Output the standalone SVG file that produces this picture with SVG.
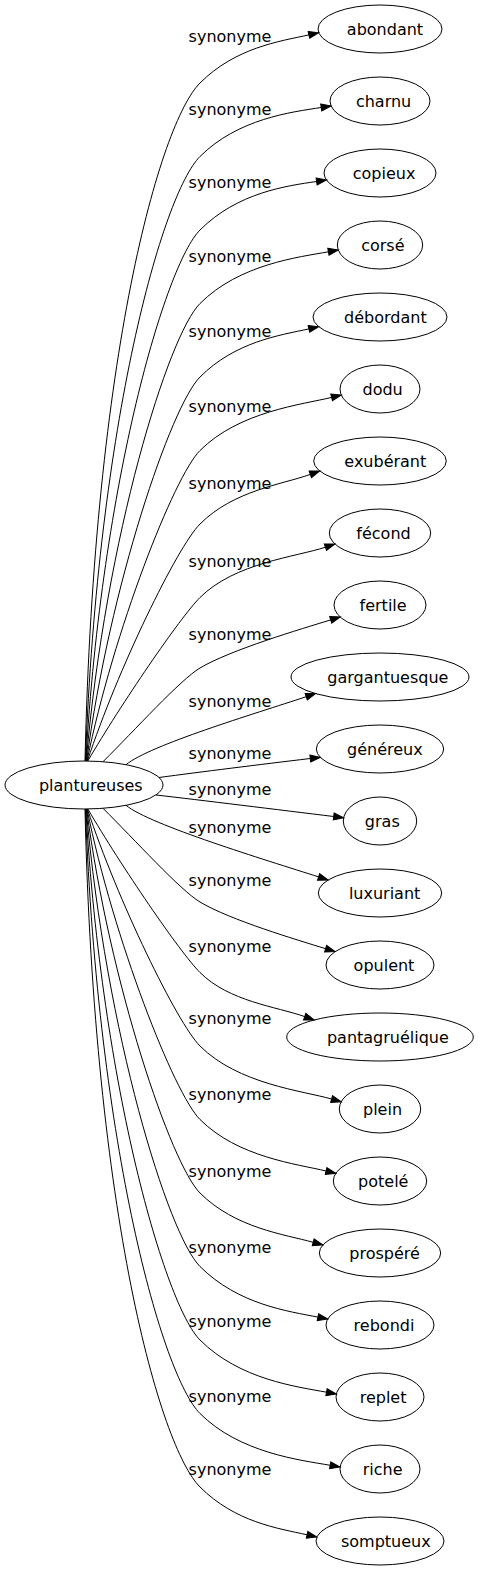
<svg xmlns="http://www.w3.org/2000/svg" width="478" height="1571" viewBox="0 0 478 1571">
<style>
.n ellipse{fill:none;stroke:#000;stroke-width:1}
.n text,.lb{font-family:"DejaVu Sans",sans-serif;font-size:16px;fill:#000;text-anchor:middle}
.e path{fill:none;stroke:#000;stroke-width:1;marker-end:url(#arr)}
</style>
<defs>
<marker id="arr" markerUnits="userSpaceOnUse" markerWidth="11" markerHeight="8" refX="0" refY="3.5" orient="auto" overflow="visible"><polygon points="0,0 10,3.5 0,7" fill="#000" stroke="#000" stroke-width="1"/></marker>
</defs>
<rect width="478" height="1571" fill="#fff"/>
<g id="connectors" class="e">
<path d="M85,761 C94.2,354.2 160,123 200,83 C235.4,47.6 279.6,41.3 308.9,34.9"/>
<path d="M85.4,761 C98.1,420.1 162.7,193.8 200,156.5 C237.8,118.7 291.6,112 321.2,107.5"/>
<path d="M85.8,761 C102,480.6 165.6,264.4 200,230 C237.6,192.4 286.9,185.8 316.6,181.5"/>
<path d="M86.2,761 C105.9,535.9 168.4,335.1 200,303.5 C239.4,264.1 298.9,257.1 328.4,251.8"/>
<path d="M86.6,761 C109.7,585.9 171.3,405.7 200,377 C235.4,341.6 279.6,335.3 308.9,328.9"/>
<path d="M87,761 C113.6,630.6 174.2,476.3 200,450.5 C239.1,411.4 302.5,404.5 331.6,397.4"/>
<path d="M87.4,761 C117.4,670 177.1,546.9 200,524 C233.6,490.4 282,484.5 310.3,474.4"/>
<path d="M87.8,761 C121.1,704.1 180,617.5 200,597.5 C234.7,562.8 296.9,556.7 325.4,547.2"/>
<path d="M103,761.7 C135,730 180,680 200,668 C230,650 302,628.7 330.7,619.9"/>
<path d="M126,764.7 C150,745 254,714 306.2,696.7"/>
<path d="M159,777.5 C200,772 260,764.5 310.3,758.5"/>
<path d="M156,795 C200,800 280,810 333.7,816.5"/>
<path d="M126,805.3 C150,825 266.2,860.1 318.6,876.9"/>
<path d="M103,808.3 C135,840 180,890 200,902 C230,920 297,939.8 325.6,948.7"/>
<path d="M87.8,809 C121.1,865.9 180,952.5 200,972.5 C229,1001.5 276.4,1006.6 304.7,1016.6"/>
<path d="M87.4,809 C117.4,900 177.1,1023.1 200,1046 C238.1,1084.1 302.7,1090.8 331.6,1099"/>
<path d="M87,809 C113.6,939.4 174.2,1093.7 200,1119.5 C237.8,1157.3 296.9,1164 326.1,1171"/>
<path d="M86.6,809 C109.7,984.1 171.3,1164.3 200,1193 C235.1,1228.1 284.3,1234.3 313.2,1242.3"/>
<path d="M86.2,809 C105.9,1034.1 168.4,1234.9 200,1266.5 C238.1,1304.6 288.5,1311.3 317.9,1317.1"/>
<path d="M85.8,809 C102,1089.4 165.6,1305.6 200,1340 C239.7,1379.7 297,1386.7 326.5,1392.2"/>
<path d="M85.4,809 C98.1,1149.9 162.7,1376.2 200,1413.5 C239.6,1453.1 300.6,1460.1 330.2,1465.3"/>
<path d="M85,809 C94.2,1215.8 160,1447 200,1487 C235.1,1522.1 277.8,1528.3 307.1,1534.8"/>
<text class="lb" x="230" y="42">synonyme</text>
<text class="lb" x="230" y="115">synonyme</text>
<text class="lb" x="230" y="188">synonyme</text>
<text class="lb" x="230" y="262">synonyme</text>
<text class="lb" x="230" y="337">synonyme</text>
<text class="lb" x="230" y="412">synonyme</text>
<text class="lb" x="230" y="489">synonyme</text>
<text class="lb" x="230" y="567">synonyme</text>
<text class="lb" x="230" y="640">synonyme</text>
<text class="lb" x="230" y="707">synonyme</text>
<text class="lb" x="230" y="759">synonyme</text>
<text class="lb" x="230" y="795">synonyme</text>
<text class="lb" x="230" y="833">synonyme</text>
<text class="lb" x="230" y="886">synonyme</text>
<text class="lb" x="230" y="952">synonyme</text>
<text class="lb" x="230" y="1024">synonyme</text>
<text class="lb" x="230" y="1100">synonyme</text>
<text class="lb" x="230" y="1177">synonyme</text>
<text class="lb" x="230" y="1253">synonyme</text>
<text class="lb" x="230" y="1327">synonyme</text>
<text class="lb" x="230" y="1402">synonyme</text>
<text class="lb" x="230" y="1475">synonyme</text>
</g>
<g id="plantureuses" class="n"><ellipse cx="84" cy="785" rx="79" ry="24"/><text x="90.8" y="790.5">plantureuses</text></g>
<g id="abondant" class="n"><ellipse cx="380" cy="29" rx="62" ry="24"/><text x="385" y="34.5">abondant</text></g>
<g id="charnu" class="n"><ellipse cx="380" cy="101" rx="50" ry="24"/><text x="383.6" y="106.5">charnu</text></g>
<g id="copieux" class="n"><ellipse cx="380" cy="173" rx="56" ry="24"/><text x="384.1" y="178.5">copieux</text></g>
<g id="corse" class="n"><ellipse cx="380" cy="245" rx="42.7" ry="24"/><text x="382.8" y="250.5">corsé</text></g>
<g id="debordant" class="n"><ellipse cx="380" cy="317" rx="67" ry="24"/><text x="385.4" y="322.5">débordant</text></g>
<g id="dodu" class="n"><ellipse cx="380" cy="389" rx="40" ry="24"/><text x="382.6" y="394.5">dodu</text></g>
<g id="exuberant" class="n"><ellipse cx="380" cy="461" rx="66.3" ry="24"/><text x="385.3" y="466.5">exubérant</text></g>
<g id="fecond" class="n"><ellipse cx="380" cy="533" rx="50.7" ry="24"/><text x="383.5" y="538.5">fécond</text></g>
<g id="fertile" class="n"><ellipse cx="380" cy="605" rx="46" ry="24"/><text x="383.1" y="610.5">fertile</text></g>
<g id="gargantuesque" class="n"><ellipse cx="380" cy="677" rx="89" ry="24"/><text x="387.9" y="682.5">gargantuesque</text></g>
<g id="genereux" class="n"><ellipse cx="380" cy="749" rx="63.7" ry="24"/><text x="384.9" y="754.5">généreux</text></g>
<g id="gras" class="n"><ellipse cx="380" cy="821" rx="36.7" ry="24"/><text x="382.3" y="826.5">gras</text></g>
<g id="luxuriant" class="n"><ellipse cx="380" cy="893" rx="61.7" ry="24"/><text x="384.6" y="898.5">luxuriant</text></g>
<g id="opulent" class="n"><ellipse cx="380" cy="965" rx="54" ry="24"/><text x="384" y="970.5">opulent</text></g>
<g id="pantagruelique" class="n"><ellipse cx="380" cy="1037" rx="93.3" ry="24"/><text x="387.9" y="1042.5">pantagruélique</text></g>
<g id="plein" class="n"><ellipse cx="380" cy="1109" rx="40.7" ry="24"/><text x="382.5" y="1114.5">plein</text></g>
<g id="potele" class="n"><ellipse cx="380" cy="1181" rx="46.7" ry="24"/><text x="383.3" y="1186.5">potelé</text></g>
<g id="prospere" class="n"><ellipse cx="380" cy="1253" rx="60.7" ry="24"/><text x="384.6" y="1258.5">prospéré</text></g>
<g id="rebondi" class="n"><ellipse cx="380" cy="1325" rx="54" ry="24"/><text x="384" y="1330.5">rebondi</text></g>
<g id="replet" class="n"><ellipse cx="380" cy="1397" rx="44" ry="24"/><text x="383.1" y="1402.5">replet</text></g>
<g id="riche" class="n"><ellipse cx="380" cy="1469" rx="40" ry="24"/><text x="382.6" y="1474.5">riche</text></g>
<g id="somptueux" class="n"><ellipse cx="380" cy="1541" rx="64" ry="24"/><text x="385.8" y="1546.5">somptueux</text></g>
</svg>
